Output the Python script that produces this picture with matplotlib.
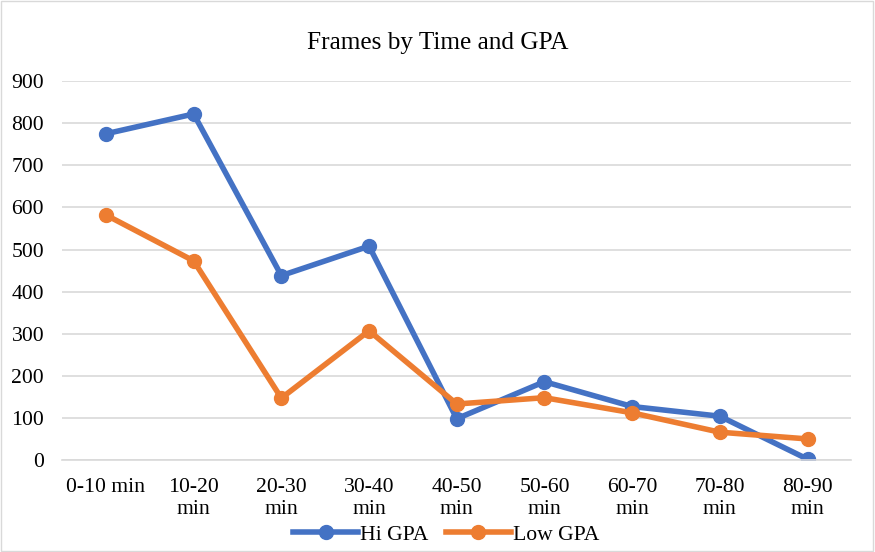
import matplotlib.pyplot as plt
import numpy as np

plt.rcParams['font.family'] = ['Liberation Serif', 'DejaVu Serif']

categories = ["0-10 min", "10-20\nmin", "20-30\nmin", "30-40\nmin", "40-50\nmin",
              "50-60\nmin", "60-70\nmin", "70-80\nmin", "80-90\nmin"]
hi_gpa = [775, 822, 438, 508, 98, 186, 127, 104, 2]
low_gpa = [582, 473, 147, 307, 133, 148, 112, 66, 50]
yticks = [0, 100, 200, 300, 400, 500, 600, 700, 800, 900]

fig = plt.figure(figsize=(8.75, 5.52), dpi=100)
ax = fig.add_axes([0.071, 0.1667, 0.902, 0.6863])

x = np.arange(len(categories))
ax.plot(x, hi_gpa, color='#4472C4', linewidth=4, marker='o', markersize=10, label='Hi GPA')
ax.plot(x, low_gpa, color='#ED7D31', linewidth=4, marker='o', markersize=10, label='Low GPA')

ax.set_xlim(-0.5, len(categories) - 0.5)
ax.set_ylim(0, 900)
ax.set_yticks(yticks)
ax.set_xticks(x)
ax.set_xticklabels(categories, fontsize=15.6, linespacing=1.2)
ax.tick_params(axis='y', labelsize=15.6, length=0, pad=13)
ax.tick_params(axis='x', length=0, pad=13)
ax.grid(axis='y', color='#D9D9D9', linewidth=1.2)
ax.set_axisbelow(True)
for s in ['top', 'right', 'left']:
    ax.spines[s].set_visible(False)
ax.spines['bottom'].set_color('#D9D9D9')
ax.spines['bottom'].set_linewidth(1.2)

fig.text(0.5, 0.922, "Frames by Time and GPA", ha='center', va='center', fontsize=18.2)
fig.legend(loc='center', bbox_to_anchor=(0.51, 0.031), ncol=2, frameon=False,
           fontsize=15.6, handlelength=3.0, columnspacing=0.8, handletextpad=0.1)

fig.patches.append(plt.Rectangle((0.001, 0.001), 0.997, 0.997, transform=fig.transFigure,
                                 fill=False, edgecolor='#D9D9D9', linewidth=1))

fig.savefig('out.png', dpi=100)
